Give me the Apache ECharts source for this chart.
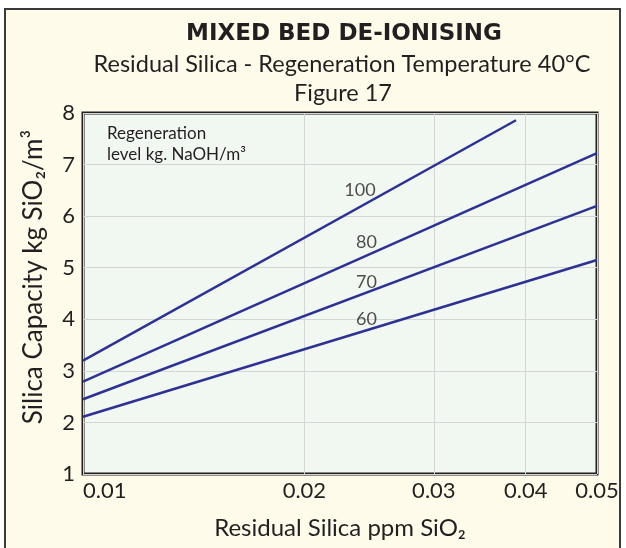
<!DOCTYPE html>
<html>
<head>
<meta charset="utf-8">
<script src="https://cdn.jsdelivr.net/npm/echarts@6/dist/echarts.min.js"></script>
<style>
  html, body { margin: 0; padding: 0; background: #fff; }
  #chart { width: 626px; height: 548px; }
</style>
</head>
<body>
<div id="chart"></div>
<script>
var xTicks = [0.01, 0.02, 0.03, 0.04, 0.05];
var yMin = 1, yMax = 8;

// regeneration level lines, [ppm SiO2, kg SiO2/m3]
var levels = ['100', '80', '70', '60'];
var line100 = [[0.01, 3.2], [0.0388, 7.86]];
var line80 = [[0.01, 2.79], [0.05, 7.22]];
var line70 = [[0.01, 2.45], [0.05, 6.2]];
var line60 = [[0.01, 2.11], [0.05, 5.15]];
var labelX = [0.0238, 0.0243, 0.0243, 0.0243];
var labelY = [6.51, 5.5, 4.72, 4.01];

var ink = '#231f20';
var blue = '#2e3192';
var font = 'Lato';

var myChart = echarts.init(document.getElementById('chart'));

var lines = [line100, line80, line70, line60];
var series = lines.map(function (d, i) {
  return {
    name: levels[i],
    type: 'line',
    data: d,
    symbol: 'none',
    silent: true,
    lineStyle: { color: blue, width: 2.5 }
  };
});
series.push({
  type: 'scatter',
  symbolSize: 0,
  silent: true,
  data: levels.map(function (l, i) { return [labelX[i], labelY[i], l]; }),
  label: {
    show: true,
    position: 'inside',
    formatter: function (p) { return p.value[2]; },
    color: ink,
    fontFamily: font,
    fontSize: 18
  }
});

var option = {
  backgroundColor: '#ffffff',
  animation: false,
  graphic: [
    {
      type: 'rect', z: -10,
      shape: { x: 5, y: 9, width: 615, height: 545 },
      style: { fill: '#fffbea', stroke: '#3a3a3a', lineWidth: 2 }
    },
    {
      type: 'text', x: 344, y: 34,
      style: {
        text: 'MIXED BED DE-IONISING', fill: ink, font: 'bold 23px "DejaVu Sans"',
        align: 'center', verticalAlign: 'middle'
      }
    },
    {
      type: 'text', x: 342, y: 64,
      style: {
        text: 'Residual Silica - Regeneration Temperature 40°C', fill: ink, font: '23.5px Lato',
        align: 'center', verticalAlign: 'middle'
      }
    },
    {
      type: 'text', x: 343, y: 93,
      style: {
        text: 'Figure 17', fill: ink, font: '23.5px Lato',
        align: 'center', verticalAlign: 'middle'
      }
    },
    {
      type: 'text', x: 34, y: 277, rotation: Math.PI / 2,
      style: {
        text: 'Silica Capacity kg SiO₂/m³', fill: ink, font: '26px Lato',
        align: 'center', verticalAlign: 'middle'
      }
    },
    {
      type: 'text', x: 107, y: 123, z: 10,
      style: {
        text: 'Regeneration\nlevel kg. NaOH/m³', fill: ink, font: '17px Lato',
        lineHeight: 21
      }
    }
  ],
  grid: {
    left: 83, right: 29, top: 113, bottom: 74,
    show: true,
    backgroundColor: '#f1f7f1',
    borderColor: ink,
    borderWidth: 3
  },
  xAxis: {
    type: 'log',
    logBase: 10,
    min: 0.01,
    max: 0.05,
    name: 'Residual Silica ppm SiO₂',
    nameLocation: 'middle',
    nameGap: 42,
    nameTextStyle: { color: ink, fontFamily: font, fontSize: 24 },
    axisLine: { show: false },
    axisTick: { show: false, customValues: xTicks },
    axisLabel: {
      customValues: xTicks,
      color: ink, fontFamily: font, fontSize: 22, margin: 6,
      alignMinLabel: 'left',
      formatter: function (v) { return String(Math.round(v * 100) / 100); }
    },
    splitLine: { show: true, lineStyle: { color: '#d4d6d6', width: 1 } },
    minorSplitLine: { show: false }
  },
  yAxis: {
    type: 'value',
    min: yMin,
    max: yMax,
    interval: 1,
    axisLine: { show: false },
    axisTick: { show: false },
    axisLabel: { color: ink, fontFamily: font, fontSize: 22, margin: 8 },
    splitLine: { show: true, lineStyle: { color: '#d4d6d6', width: 1 } }
  },
  series: series
};
myChart.setOption(option);
</script>
</body>
</html>
